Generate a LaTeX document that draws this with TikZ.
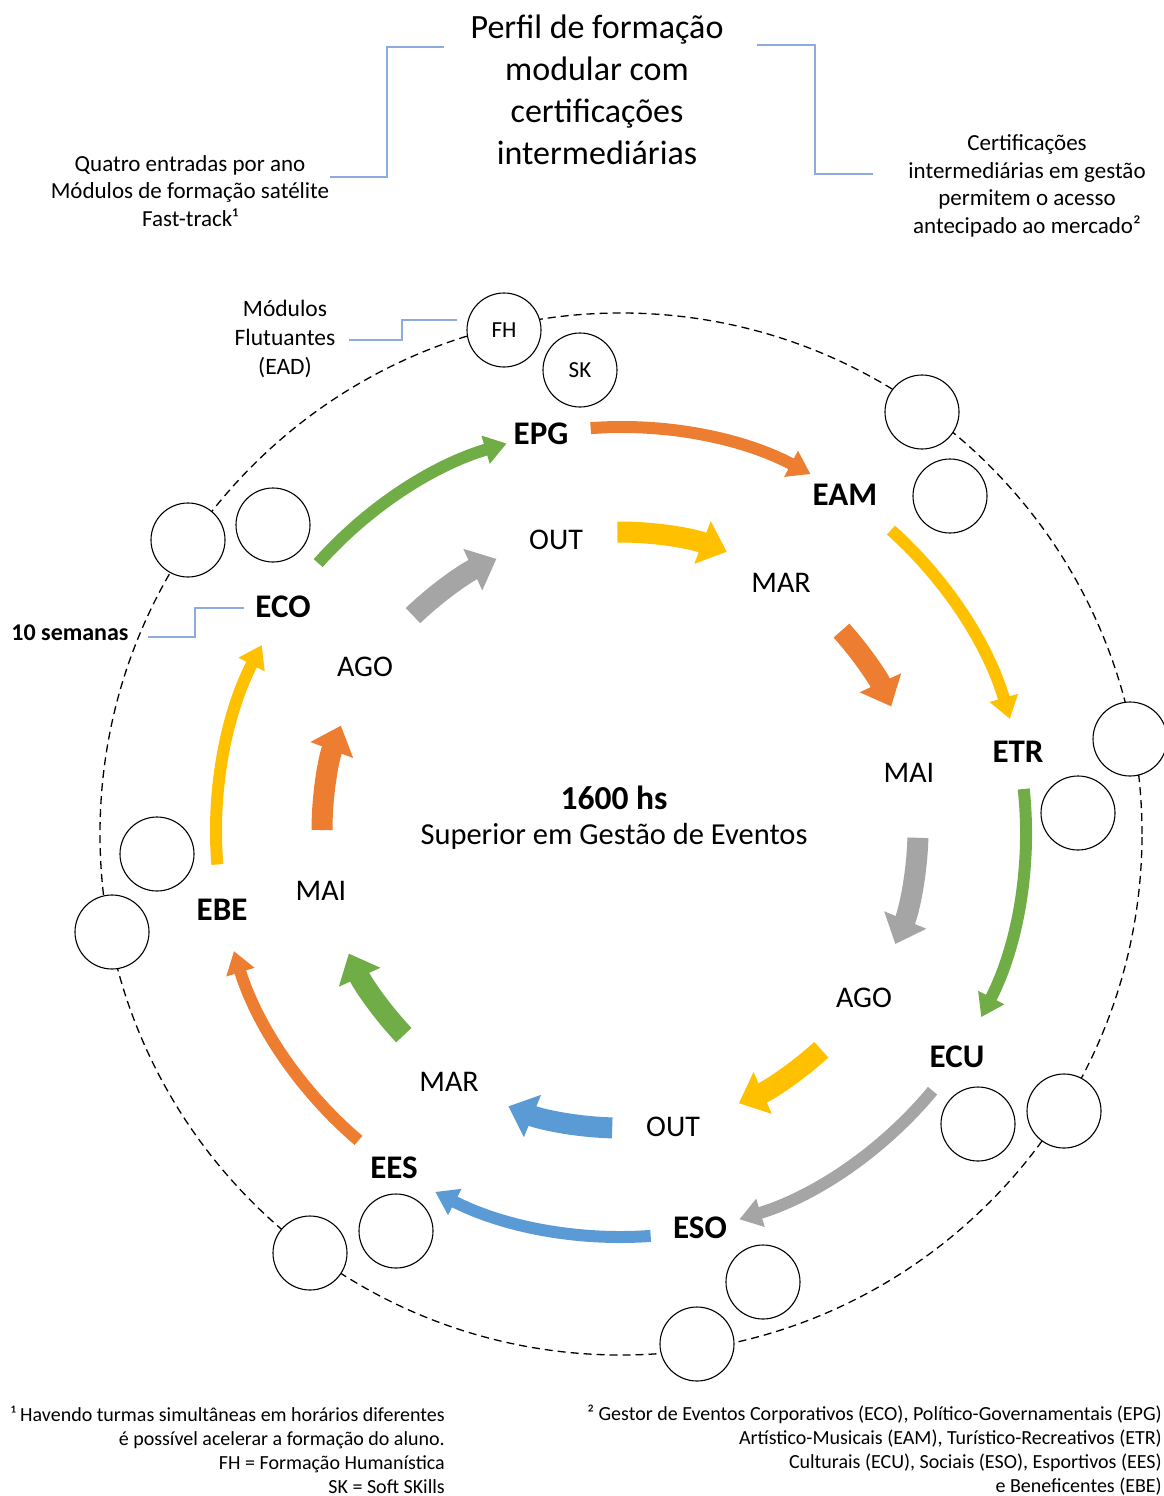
\documentclass[tikz,border=0pt]{standalone}
\usepackage{fontspec}
\setmainfont{Carlito}
\usetikzlibrary{arrows.meta}
\definecolor{corange}{HTML}{ED7D31}
\definecolor{cgreen}{HTML}{70AD47}
\definecolor{cgold}{HTML}{FFC000}
\definecolor{cgray}{HTML}{A5A5A5}
\definecolor{cblue}{HTML}{5B9BD5}
\definecolor{cline}{HTML}{8FAADC}
\tikzset{
  outerarrow/.style={line width=12pt, -{Triangle[width=28pt,length=22pt]}},
  innerarrow/.style={line width=21pt, -{Triangle[width=44pt,length=26pt]}},
  ring/.style={circle, draw=black, line width=1.1pt, fill=white, minimum size=74pt, inner sep=0pt, font=\fontsize{23}{26}\selectfont},
  biglabel/.style={inner sep=0pt, font=\fontsize{33}{38}\bfseries\selectfont},
  monthlabel/.style={inner sep=0pt, font=\fontsize{30}{34}\selectfont},
  note/.style={inner sep=0pt, align=center, font=\fontsize{23}{27.5}\selectfont},
  foot/.style={inner sep=0pt, align=right, font=\fontsize{20}{24}\selectfont},
  callout/.style={draw=cline, line width=1.3pt},
}
\begin{document}
\begin{tikzpicture}[x=1pt,y=1pt]
\useasboundingbox (0,0) rectangle (1164,-1496);
\coordinate (C) at (621,-834);
\coordinate (A) at (621,-832);
\coordinate (B) at (620,-830);

% dashed ring
\draw[dash pattern=on 8pt off 5pt, line width=1.3pt] (C) circle[radius=521pt];

% title and notes
\node[note, font=\fontsize{34}{42}\selectfont] (title) at (597,-90) {Perfil de formação\\modular com\\certificações\\intermediárias};
\node[note] (left) at (190,-191) {Quatro entradas por ano\\Módulos de formação satélite\\Fast-track¹};
\node[note] (right) at (1027,-186) {Certificações\\intermediárias em gestão\\permitem o acesso\\antecipado ao mercado²};
\node[note, font=\fontsize{23.5}{29}\selectfont] (mod) at (285,-339) {Módulos\\Flutuantes\\(EAD)};
\node[inner sep=0pt, font=\fontsize{24}{28}\bfseries\selectfont] (sem) at (70,-633) {10 semanas};

% callout lines
\coordinate (t1) at (444,-47); \coordinate (t2) at (330,-177);
\draw[callout] (t1) -- (387,-47) -- (387,-177) -- (t2);
\coordinate (t3) at (757,-45); \coordinate (t4) at (873,-174);
\draw[callout] (t3) -- (815,-45) -- (815,-174) -- (t4);
\coordinate (m1) at (349,-340); \coordinate (m2) at (457,-320);
\draw[callout] (m1) -- (402,-340) -- (402,-320) -- (m2);
\coordinate (s1) at (148,-637); \coordinate (s2) at (244,-608);
\draw[callout] (s1) -- (195,-637) -- (195,-608) -- (s2);

% small circles
\node[ring] (fh) at (504,-330) {FH};
\node[ring] (sk) at (580,-370) {SK};
\node[ring] (r1) at (922,-412) {};
\node[ring] (r2) at (950,-496) {};
\node[ring] (r3) at (1130,-739) {};
\node[ring] (r4) at (1078,-813) {};
\node[ring] (r5) at (1064,-1111) {};
\node[ring] (r6) at (978,-1124) {};
\node[ring] (r7) at (763,-1282) {};
\node[ring] (r8) at (697,-1344) {};
\node[ring] (r9) at (396,-1231) {};
\node[ring] (r10) at (310,-1253) {};
\node[ring] (r11) at (157,-854) {};
\node[ring] (r12) at (112,-932) {};
\node[ring] (r13) at (188,-540) {};
\node[ring] (r14) at (273,-525) {};

% outer arrows
\foreach \a/\b/\c in {138.4/106.4/cgreen, 94.3/62.1/corange, 48.2/16.2/cgold, 6.1/-27.2/cgreen,
  -39.7/-73/cgray, -85.8/-117.3/cblue, -130.4/-162.9/corange, 184.6/152.5/cgold}
  \draw[outerarrow, draw=\c] ([shift={(\a:405)}]A) arc[start angle=\a, end angle=\b, radius=405pt];

% inner arrows
\foreach \a/\b/\c in {90.5/69/cgold, 42/24.5/corange, -1.5/-22.5/cgray, -47.5/-66.5/cgold,
  -91.5/-112/cblue, -136.5/-155.5/cgreen, 180/159.5/corange, 134/114.5/cgray}
  \draw[innerarrow, draw=\c] ([shift={(\a:298)}]B) arc[start angle=\a, end angle=\b, radius=298pt];

% outer labels
\node[biglabel] (epg) at (541,-434) {EPG};
\node[biglabel] (eam) at (845,-495) {EAM};
\node[biglabel] (etr) at (1018,-752) {ETR};
\node[biglabel] (ecu) at (957,-1057) {ECU};
\node[biglabel] (eso) at (700,-1228) {ESO};
\node[biglabel] (ees) at (394,-1168) {EES};
\node[biglabel] (ebe) at (222,-910) {EBE};
\node[biglabel] (eco) at (283,-607) {ECO};

% inner labels
\node[monthlabel] (i1) at (556,-540) {OUT};
\node[monthlabel] (i2) at (781,-583) {MAR};
\node[monthlabel] (i3) at (909,-773) {MAI};
\node[monthlabel] (i4) at (864,-998) {AGO};
\node[monthlabel] (i5) at (673,-1127) {OUT};
\node[monthlabel] (i6) at (449,-1082) {MAR};
\node[monthlabel] (i7) at (321,-891) {MAI};
\node[monthlabel] (i8) at (365,-667) {AGO};

% centre
\node[inner sep=0pt, font=\fontsize{33.5}{38}\bfseries\selectfont] (hs) at (614,-798) {1600 hs};
\node[inner sep=0pt, font=\fontsize{30.5}{34}\selectfont] (sup) at (614,-836) {Superior em Gestão de Eventos};

% footnotes
\node[foot, anchor=east] (f1) at (445,-1450) {¹ Havendo turmas simultâneas em horários diferentes\\é possível acelerar a formação do aluno.\\FH = Formação Humanística\\SK = Soft SKills};
\node[foot, anchor=east] (f2) at (1162,-1450) {² Gestor de Eventos Corporativos (ECO), Político-Governamentais (EPG)\\Artístico-Musicais (EAM), Turístico-Recreativos (ETR)\\Culturais (ECU), Sociais (ESO), Esportivos (EES)\\e Beneficentes (EBE)};
\end{tikzpicture}
\end{document}
